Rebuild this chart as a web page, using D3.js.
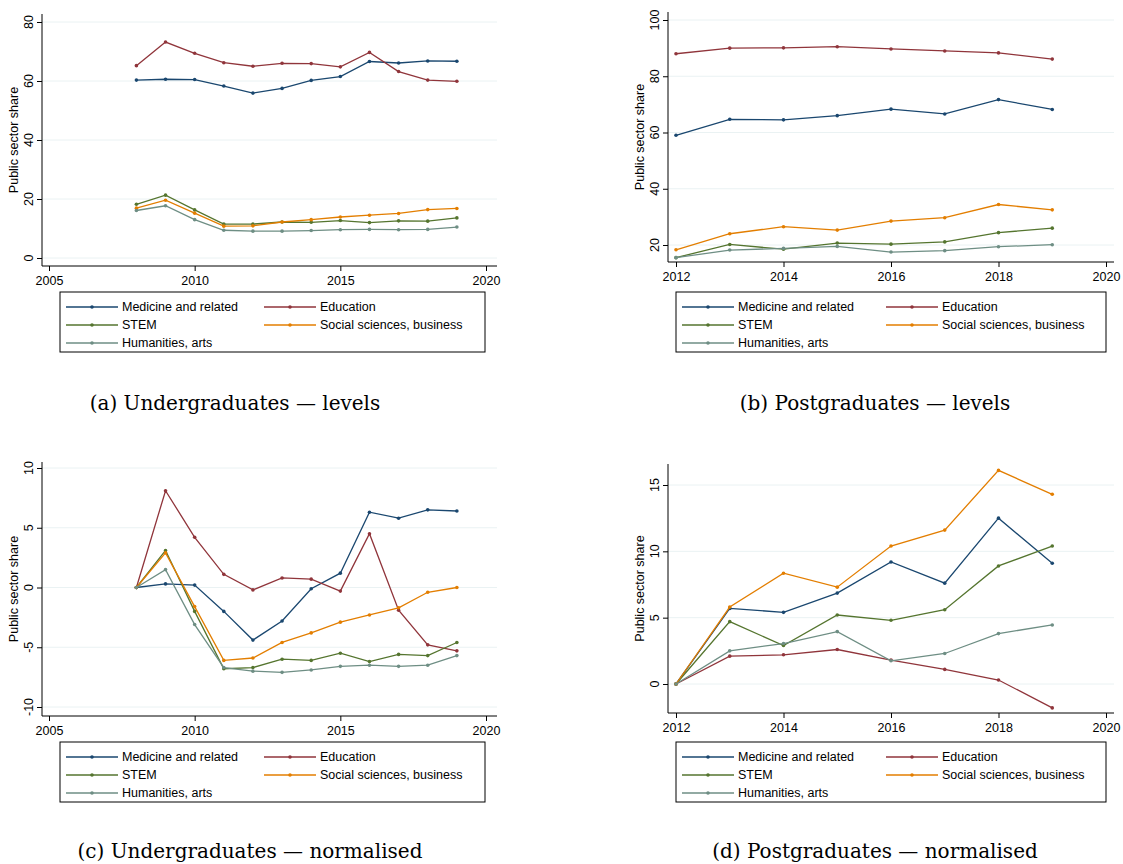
<!DOCTYPE html>
<html><head><meta charset="utf-8">
<script src="https://cdn.jsdelivr.net/npm/d3@7"></script>
<style>body{margin:0;background:#fff}</style>
</head><body>
<svg id="c" width="1123" height="864"></svg>
<script>
const seriesNames = ['Medicine and related', 'Education', 'STEM', 'Social sciences, business', 'Humanities, arts'];
const colors = ['#1a476f', '#90353b', '#55752f', '#e37e00', '#6e8e84'];
const ugYears = d3.range(2008, 2020);
const pgYears = d3.range(2012, 2020);

const ugLevels = [
  [60.3, 60.6, 60.5, 58.3, 55.9, 57.5, 60.2, 61.5, 66.6, 66.1, 66.8, 66.7],
  [65.2, 73.2, 69.4, 66.2, 65.0, 66.0, 65.9, 64.8, 69.7, 63.2, 60.3, 59.9],
  [18.2, 21.3, 16.3, 11.5, 11.5, 12.2, 12.1, 12.7, 12.0, 12.6, 12.5, 13.6],
  [16.9, 19.6, 15.2, 10.8, 10.9, 12.2, 13.0, 13.9, 14.5, 15.1, 16.4, 16.8],
  [16.1, 17.7, 13.0, 9.4, 9.1, 9.1, 9.3, 9.6, 9.7, 9.6, 9.7, 10.5]
];
const pgLevels = [
  [59.0, 64.7, 64.5, 66.0, 68.3, 66.6, 71.7, 68.2],
  [88.0, 90.0, 90.1, 90.5, 89.7, 89.0, 88.3, 86.1],
  [15.5, 20.2, 18.5, 20.7, 20.3, 21.1, 24.4, 26.0],
  [18.3, 24.0, 26.5, 25.3, 28.5, 29.7, 34.4, 32.5],
  [15.5, 18.2, 18.8, 19.5, 17.5, 18.0, 19.4, 20.1]
];
const ugNorm = [
  [0, 0.3, 0.2, -2.0, -4.4, -2.8, -0.1, 1.2, 6.3, 5.8, 6.5, 6.4],
  [0, 8.1, 4.2, 1.1, -0.2, 0.8, 0.7, -0.3, 4.5, -1.9, -4.8, -5.3],
  [0, 3.1, -2.0, -6.8, -6.7, -6.0, -6.1, -5.5, -6.2, -5.6, -5.7, -4.6],
  [0, 2.9, -1.6, -6.1, -5.9, -4.6, -3.8, -2.9, -2.3, -1.7, -0.4, 0],
  [0, 1.5, -3.1, -6.7, -7.0, -7.1, -6.9, -6.6, -6.5, -6.6, -6.5, -5.7]
];
const pgNorm = [
  [0, 5.7, 5.4, 6.85, 9.2, 7.6, 12.5, 9.1],
  [0, 2.1, 2.2, 2.6, 1.8, 1.1, 0.3, -1.8],
  [0, 4.7, 2.9, 5.2, 4.8, 5.6, 8.9, 10.4],
  [0, 5.8, 8.35, 7.3, 10.4, 11.6, 16.1, 14.3],
  [0, 2.5, 3.05, 3.95, 1.75, 2.3, 3.8, 4.45]
];
const ugXTicks = [2005, 2010, 2015, 2020];
const pgXTicks = [2012, 2014, 2016, 2018, 2020];

const panels = [
  { years: ugYears, data: ugLevels, xd: [2005, 2020], xr: [49, 486], yd: [0, 80], yr: [258, 22], yt: [0, 20, 40, 60, 80], xt: ugXTicks,
    box: [42, 497, 14, 266], leg: 60, cap: '(a) Undergraduates — levels', capX: 235, capY: 410 },
  { years: pgYears, data: pgLevels, xd: [2012, 2020], xr: [676, 1106], yd: [20, 100], yr: [245, 20], yt: [20, 40, 60, 80, 100], xt: pgXTicks,
    box: [668, 1114, 12, 262], leg: 676, cap: '(b) Postgraduates — levels', capX: 875, capY: 410 },
  { years: ugYears, data: ugNorm, xd: [2005, 2020], xr: [49, 486], yd: [-10, 10], yr: [707, 468], yt: [-10, -5, 0, 5, 10], xt: ugXTicks,
    box: [42, 497, 462, 716], leg: 60, cap: '(c) Undergraduates — normalised', capX: 250, capY: 858 },
  { years: pgYears, data: pgNorm, xd: [2012, 2020], xr: [676, 1106], yd: [0, 15], yr: [684, 485], yt: [0, 5, 10, 15], xt: pgXTicks,
    box: [668, 1114, 464, 713], leg: 676, cap: '(d) Postgraduates — normalised', capX: 875, capY: 858 }
];

const svg = d3.select('#c');
const font = 'Liberation Sans, Arial, sans-serif';

panels.forEach((p) => {
  const g = svg.append('g');
  const x = d3.scaleLinear().domain(p.xd).range(p.xr);
  const y = d3.scaleLinear().domain(p.yd).range(p.yr);
  const [l, r, t, b] = p.box;

  g.selectAll('line.grid').data(p.yt).join('line')
    .attr('x1', l).attr('x2', r).attr('y1', y).attr('y2', y)
    .attr('stroke', '#eaf2f3').attr('stroke-width', 1);

  const xa = g.append('g').attr('transform', `translate(0,${b})`)
    .call(d3.axisBottom(x).tickValues(p.xt).tickFormat(d3.format('d')).tickSize(5).tickSizeOuter(0));
  xa.select('.domain').attr('d', `M${l},0H${r}`);
  xa.selectAll('text').attr('font-size', 12.5).attr('font-family', font).attr('fill', '#000').attr('dy', '0.9em');

  const ya = g.append('g').attr('transform', `translate(${l},0)`)
    .call(d3.axisLeft(y).tickValues(p.yt).tickSize(5).tickSizeOuter(0));
  ya.select('.domain').attr('d', `M0,${t}V${b}`);
  ya.selectAll('.tick text').remove();
  g.selectAll('.domain, .tick line').attr('stroke', '#000');

  g.selectAll('text.ytick').data(p.yt).join('text').attr('class', 'ytick')
    .attr('transform', (d) => `translate(${l - 9},${y(d)}) rotate(-90)`)
    .attr('text-anchor', 'middle').attr('font-size', 12.5).attr('font-family', font).text((d) => d);

  g.append('text').attr('transform', `translate(${l - 24},${(t + b) / 2}) rotate(-90)`)
    .attr('text-anchor', 'middle').attr('font-size', 12.5).attr('font-family', font).text('Public sector share');

  const line = d3.line().x((d, i) => x(p.years[i])).y((d) => y(d));
  p.data.forEach((s, k) => {
    g.append('path').datum(s).attr('d', line).attr('fill', 'none')
      .attr('stroke', colors[k]).attr('stroke-width', 1.3);
    g.selectAll(null).data(s).join('circle')
      .attr('cx', (d, i) => x(p.years[i])).attr('cy', y).attr('r', 1.8).attr('fill', colors[k]);
  });

  // legend
  const ly = 292 + (p.box[3] > 400 ? 450 : 0);
  const lw = p.leg > 600 ? 430 : 425;
  g.append('rect').attr('x', p.leg).attr('y', ly).attr('width', lw).attr('height', 60)
    .attr('fill', '#fff').attr('stroke', '#000').attr('stroke-width', 1);
  seriesNames.forEach((name, k) => {
    const cx = p.leg + 6 + (k % 2) * (p.leg > 600 ? 204 : 198);
    const cy = ly + 15 + Math.floor(k / 2) * 18;
    g.append('line').attr('x1', cx).attr('x2', cx + 52).attr('y1', cy).attr('y2', cy)
      .attr('stroke', colors[k]).attr('stroke-width', 1.3);
    g.append('circle').attr('cx', cx + 26).attr('cy', cy).attr('r', 1.8).attr('fill', colors[k]);
    g.append('text').attr('x', cx + 56).attr('y', cy).attr('dy', '0.35em')
      .attr('font-size', 12.5).attr('font-family', font).text(name);
  });

  g.append('text').attr('x', p.capX).attr('y', p.capY).attr('text-anchor', 'middle')
    .attr('font-size', 20).attr('font-family', 'DejaVu Serif, serif').text(p.cap);
});
</script>
</body></html>
